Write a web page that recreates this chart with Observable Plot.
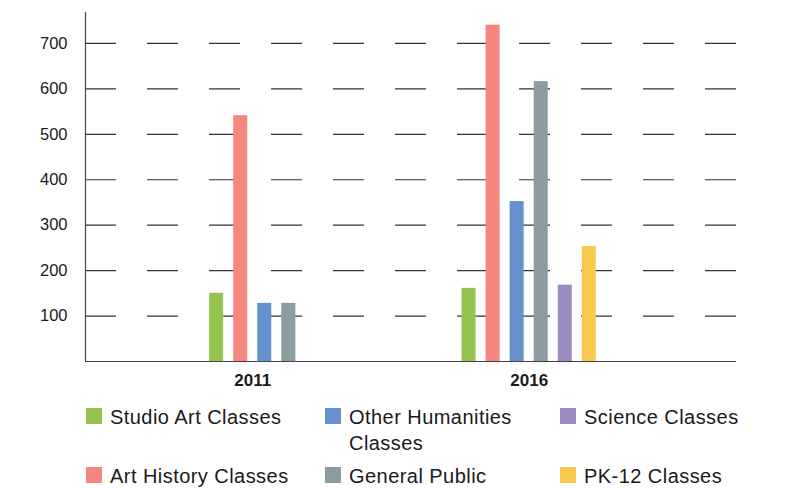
<!DOCTYPE html>
<html>
<head>
<meta charset="utf-8">
<script src="https://cdn.jsdelivr.net/npm/d3@7"></script>
<script src="https://cdn.jsdelivr.net/npm/@observablehq/plot@0.6"></script>
<style>
  body { margin: 0; background: #fff; font-family: "Liberation Sans", Arial, sans-serif; }
  #wrap { position: relative; width: 785px; height: 488px; }
  #legend { position: absolute; left: 86px; top: 404px; width: 690px; display: grid;
    grid-template-columns: 239px 235px 210px; row-gap: 7px; }
  .item { display: flex; align-items: flex-start; font-size: 20px; letter-spacing: 0.45px; line-height: 26px; color: #1a1a1a; }
  .sw { width: 16px; height: 16px; margin-top: 4px; margin-right: 8px; flex: none; }
  .lbl { max-width: 190px; }
</style>
</head>
<body>
<div id="wrap"><div id="chart"></div><div id="legend"></div></div>
<script>
const years = [2011, 2016];
const series = ["Studio Art Classes", "Art History Classes", "Other Humanities Classes", "General Public", "Science Classes", "PK-12 Classes"];
const colors = ["#96c250", "#f5857f", "#6592cd", "#8b9da0", "#9b8bc0", "#f8c94c"];
const values2011 = [150, 541, 128, 128, null, null];
const values2016 = [161, 740, 352, 616, 168, 253];
const yTicks = [100, 200, 300, 400, 500, 600, 700];
const legendOrder = ["Studio Art Classes", "Other Humanities Classes", "Science Classes", "Art History Classes", "General Public", "PK-12 Classes"];

// layout in year units along a linear x scale
const slot = 0.435;   // spacing between bars within a group
const barW = 0.254;   // bar width
const xDomain = [2007.975, 2019.75];

const data = [];
[values2011, values2016].forEach((vals, yi) => {
  const present = series.map((s, i) => ({s, i, v: vals[i]})).filter(d => d.v != null);
  const n = present.length;
  present.forEach((d, k) => {
    const c = years[yi] + (k - (n - 1) / 2) * slot;
    data.push({year: years[yi], series: d.s, value: d.v, x1: c - barW / 2, x2: c + barW / 2});
  });
});

const chart = Plot.plot({
  width: 785,
  height: 392,
  marginLeft: 85,
  marginRight: 49,
  marginTop: 12,
  marginBottom: 31,
  style: {fontFamily: "Liberation Sans, Arial, sans-serif", fontSize: "16px", color: "#1a1a1a", background: "white"},
  x: {type: "linear", domain: xDomain, axis: null, label: null},
  y: {domain: [0, 768], axis: null, label: null},
  color: {domain: series, range: colors},
  marks: [
    Plot.ruleY(yTicks, {stroke: "#333", strokeWidth: 1.2, strokeDasharray: "31,31"}),
    Plot.rectY(data, {x1: "x1", x2: "x2", y1: 0, y2: "value", fill: "series"}),
    Plot.ruleX([xDomain[0]], {stroke: "#444", strokeWidth: 1.2}),
    Plot.ruleY([0], {stroke: "#444", strokeWidth: 1.2}),
    Plot.axisY({ticks: yTicks, label: null, tickSize: 0, tickPadding: 18, fontSize: 16.5, tickFormat: d => String(d)}),
    Plot.axisX({ticks: years, label: null, tickSize: 0, tickPadding: 12, fontSize: 17, fontWeight: "bold", tickFormat: d => String(d)})
  ]
});
document.getElementById("chart").appendChild(chart);

const legend = document.getElementById("legend");
legendOrder.forEach(name => {
  const item = document.createElement("div");
  item.className = "item";
  const sw = document.createElement("span");
  sw.className = "sw";
  sw.style.background = colors[series.indexOf(name)];
  const lbl = document.createElement("span");
  lbl.className = "lbl";
  lbl.textContent = name;
  item.appendChild(sw);
  item.appendChild(lbl);
  legend.appendChild(item);
});
</script>
</body>
</html>
